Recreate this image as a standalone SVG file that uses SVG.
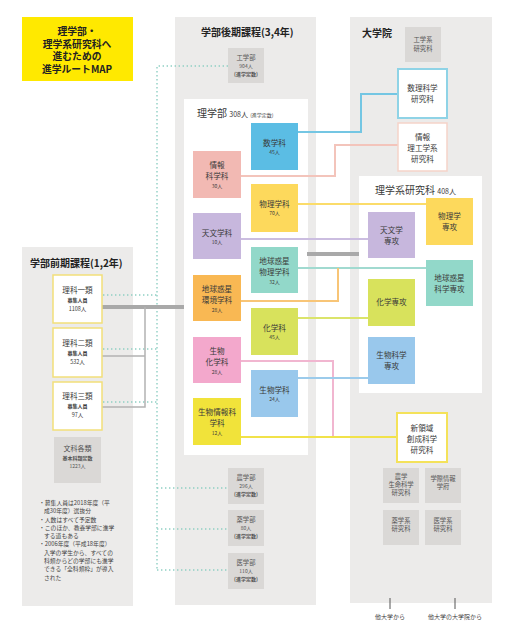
<svg xmlns="http://www.w3.org/2000/svg" width="508" height="628" viewBox="0 0 508 628">
<style>
text{font-family:"Noto Sans CJK JP","Noto Sans CJK SC",sans-serif;text-anchor:middle;fill:#3a3a3a}
.panel{fill:#ecebea}
.wb{fill:#ffffff}
.gb{fill:#dad8d6}
.gt{font-size:6.3px;fill:#555}
.gs{font-size:5px;fill:#555}
.hd{font-size:10px;font-weight:bold;fill:#222;text-anchor:start}
.ti{font-size:9.8px;font-weight:bold;fill:#222}
.lb{font-size:7.6px}
.nm{font-size:5px}
.ri{fill:#fff;stroke:#f2df7a;stroke-width:1.5}
.c{fill:none;stroke-width:2}
.d{fill:none;stroke:#8fcfc4;stroke-width:1.4;stroke-dasharray:1.4 2.6}
.note{font-size:5.8px;text-anchor:start;fill:#444}
</style>

<rect width="508" height="628" fill="#ffffff"/>

<!-- panels -->
<rect class="panel" x="22" y="247" width="111" height="359"/>
<rect class="panel" x="175" y="17" width="141" height="588"/>
<rect class="panel" x="350" y="17" width="142" height="586"/>

<!-- title -->
<g id="title">
<rect x="22" y="17" width="111" height="64" fill="#ffe900"/>
<text class="ti" x="77" y="35">理学部・<tspan x="77" dy="12.5">理学系研究科へ</tspan><tspan x="77" dy="12.5">進むための</tspan><tspan x="77" dy="12.5">進学ルートMAP</tspan></text>
</g>

<text class="hd" x="30" y="267">学部前期課程(1,2年)</text>
<text class="hd" x="201" y="36">学部後期課程(3,4年)</text>
<text class="hd" x="362" y="37">大学院</text>

<!-- inner white boxes -->
<g id="rigakubu">
<rect class="wb" x="184" y="99" width="124" height="356"/>
<text x="197" y="117" style="font-size:10px;text-anchor:start">理学部 <tspan style="font-size:7px">308人</tspan> <tspan style="font-size:5px">(進学定数)</tspan></text>
</g>
<g id="rigakukei">
<rect class="wb" x="359" y="176" width="123" height="217"/>
<text x="375" y="194" style="font-size:10px;text-anchor:start">理学系研究科 <tspan style="font-size:7px">408人</tspan></text>
</g>

<!-- connectors -->
<g id="connectors">
<path class="d" d="M228 66H157V570"/>
<path class="d" d="M103 295H157M103 349H157M103 402H157"/>
<path class="d" d="M157 488H228M157 529H228M157 570H228"/>
<path d="M102 307H184" fill="none" stroke="#a9a9a9" stroke-width="4"/>
<path d="M102 356H145V307M102 407H145V307" fill="none" stroke="#b3b3b3" stroke-width="1.5"/>
<path d="M307 254H359" fill="none" stroke="#a9a9a9" stroke-width="4"/>
<path class="c" stroke="#74c6e3" d="M298 132H361V94H398"/>
<path class="c" stroke="#f3c4bb" d="M241 176H335V145H398"/>
<path class="c" stroke="#fbdc6a" d="M298 204H426"/>
<path class="c" stroke="#cbbde0" d="M241 239H368"/>
<path class="c" stroke="#a1dad0" d="M298 268H426"/>
<path class="c" stroke="#f8c577" d="M241 301H338V268"/>
<path class="c" stroke="#dbe46b" d="M298 318H368"/>
<path class="c" stroke="#f1b6d0" d="M241 361H333V437"/>
<path class="c" stroke="#9ccbeb" d="M298 378H368"/>
<path class="c" stroke="#f1e24a" d="M241 437H397"/>
<path d="M390 598V609M455 598V609" stroke="#555" stroke-width="1"/>
</g>

<!-- left column -->
<g id="ka1">
<rect class="ri" x="53" y="275" width="49" height="48"/>
<text class="lb" x="77.5" y="293">理科一類</text>
<text class="nm" x="77.5" y="302" style="font-weight:bold">募集人員</text>
<text x="77.5" y="311" style="font-size:5.5px">1108人</text>
</g>
<g id="ka2">
<rect class="ri" x="53" y="328" width="49" height="49"/>
<text class="lb" x="77.5" y="346">理科二類</text>
<text class="nm" x="77.5" y="355" style="font-weight:bold">募集人員</text>
<text x="77.5" y="364" style="font-size:5.5px">532人</text>
</g>
<g id="ka3">
<rect class="ri" x="53" y="382" width="49" height="48"/>
<text class="lb" x="77.5" y="399">理科三類</text>
<text class="nm" x="77.5" y="408" style="font-weight:bold">募集人員</text>
<text x="77.5" y="417" style="font-size:5.5px">97人</text>
</g>
<g id="bunka">
<rect class="gb" x="54" y="437" width="47" height="46"/>
<text x="77.5" y="451" style="font-size:7px;fill:#555">文科各類</text>
<text class="gs" x="77.5" y="460" style="font-weight:bold">基本科類定数</text>
<text class="gs" x="77.5" y="468">1223人</text>
</g>
<g id="notes">
<text class="note" x="39" y="505">・募集人員は2018年度（平</text>
<text class="note" x="44" y="513">成30年度）選抜分</text>
<text class="note" x="39" y="522">・人数はすべて予定数</text>
<text class="note" x="39" y="530">・このほか、教養学部に進学</text>
<text class="note" x="44" y="538">する道もある</text>
<text class="note" x="39" y="546">・2006年度（平成18年度）</text>
<text class="note" x="44" y="555">入学の学生から、すべての</text>
<text class="note" x="44" y="563">科類からどの学部にも進学</text>
<text class="note" x="44" y="571">できる「全科類枠」が導入</text>
<text class="note" x="44" y="580">された</text>
</g>

<!-- middle gray boxes -->
<g id="kogakubu">
<rect class="gb" x="228" y="48" width="36" height="35"/>
<text class="gt" x="246" y="60">工学部</text>
<text class="gs" x="246" y="68">904人</text>
<text class="gs" x="246" y="76" style="font-weight:bold">(進学定数)</text>
</g>
<g id="nogakubu">
<rect class="gb" x="228" y="468" width="36" height="36"/>
<text class="gt" x="246" y="480">農学部</text>
<text class="gs" x="246" y="488">296人</text>
<text class="gs" x="246" y="496" style="font-weight:bold">(進学定数)</text>
</g>
<g id="yakugakubu">
<rect class="gb" x="228" y="510" width="36" height="36"/>
<text class="gt" x="246" y="522">薬学部</text>
<text class="gs" x="246" y="530">80人</text>
<text class="gs" x="246" y="538" style="font-weight:bold">(進学定数)</text>
</g>
<g id="igakubu">
<rect class="gb" x="228" y="553" width="36" height="36"/>
<text class="gt" x="246" y="565">医学部</text>
<text class="gs" x="246" y="573">110人</text>
<text class="gs" x="246" y="581" style="font-weight:bold">(進学定数)</text>
</g>

<!-- middle departments -->
<g id="sugaku">
<rect x="251" y="123" width="47" height="47" fill="#5bbde4"/>
<text class="lb" x="274.5" y="146">数学科</text>
<text class="nm" x="274.5" y="154">45人</text>
</g>
<g id="joho">
<rect x="193" y="151" width="48" height="47" fill="#f2b9b3"/>
<text class="lb" x="217" y="168">情報</text>
<text class="lb" x="217" y="179">科学科</text>
<text class="nm" x="217" y="187.5">30人</text>
</g>
<g id="butsuri">
<rect x="251" y="184" width="47" height="48" fill="#fdd95c"/>
<text class="lb" x="274.5" y="207">物理学科</text>
<text class="nm" x="274.5" y="215">70人</text>
</g>
<g id="tenmon">
<rect x="193" y="213" width="48" height="46" fill="#c7b7dd"/>
<text class="lb" x="217" y="236">天文学科</text>
<text class="nm" x="217" y="244">10人</text>
</g>
<g id="chikyubutsuri">
<rect x="251" y="247" width="47" height="46" fill="#92d8c9"/>
<text class="lb" x="274.5" y="264">地球惑星</text>
<text class="lb" x="274.5" y="275">物理学科</text>
<text class="nm" x="274.5" y="283.5">32人</text>
</g>
<g id="chikyukankyo">
<rect x="193" y="275" width="48" height="46" fill="#f9b853"/>
<text class="lb" x="217" y="292">地球惑星</text>
<text class="lb" x="217" y="303">環境学科</text>
<text class="nm" x="217" y="311.5">28人</text>
</g>
<g id="kagaku">
<rect x="251" y="308" width="47" height="47" fill="#d8e25c"/>
<text class="lb" x="274.5" y="331">化学科</text>
<text class="nm" x="274.5" y="339">45人</text>
</g>
<g id="seibutsukagaku">
<rect x="193" y="337" width="48" height="46" fill="#f3a8cc"/>
<text class="lb" x="217" y="354">生物</text>
<text class="lb" x="217" y="365">化学科</text>
<text class="nm" x="217" y="373.5">28人</text>
</g>
<g id="seibutsu">
<rect x="251" y="370" width="47" height="47" fill="#99c8ec"/>
<text class="lb" x="274.5" y="393">生物学科</text>
<text class="nm" x="274.5" y="401">24人</text>
</g>
<g id="seibutsujoho">
<rect x="193" y="398" width="48" height="47" fill="#f1e33a"/>
<text class="lb" x="217" y="415">生物情報科</text>
<text class="lb" x="217" y="426">学科</text>
<text class="nm" x="217" y="434.5">12人</text>
</g>

<!-- right column -->
<g id="kogakukei">
<rect class="gb" x="405" y="27" width="36" height="35"/>
<text class="gt" x="423" y="42">工学系</text>
<text class="gt" x="423" y="51">研究科</text>
</g>
<g id="suri">
<rect x="398" y="69" width="49" height="49" fill="#fff" stroke="#8fd3e6" stroke-width="2"/>
<text class="lb" x="422.5" y="91">数理科学</text>
<text class="lb" x="422.5" y="102">研究科</text>
</g>
<g id="johoriko">
<rect x="398" y="123" width="49" height="48" fill="#fff" stroke="#f5d3c9" stroke-width="1.5"/>
<text class="lb" x="422.5" y="140">情報</text>
<text class="lb" x="422.5" y="151">理工学系</text>
<text class="lb" x="422.5" y="162">研究科</text>
</g>
<g id="butsurisenko">
<rect x="426" y="198" width="47" height="47" fill="#fdd95c"/>
<text class="lb" x="449.5" y="219">物理学</text>
<text class="lb" x="449.5" y="230">専攻</text>
</g>
<g id="tenmonsenko">
<rect x="368" y="212" width="47" height="46" fill="#c7b7dd"/>
<text class="lb" x="391.5" y="233">天文学</text>
<text class="lb" x="391.5" y="244">専攻</text>
</g>
<g id="chikyusenko">
<rect x="426" y="260" width="47" height="46" fill="#92d8c9"/>
<text class="lb" x="449.5" y="281">地球惑星</text>
<text class="lb" x="449.5" y="292">科学専攻</text>
</g>
<g id="kagakusenko">
<rect x="368" y="279" width="47" height="47" fill="#d8e25c"/>
<text class="lb" x="391.5" y="305">化学専攻</text>
</g>
<g id="seibutsusenko">
<rect x="368" y="337" width="47" height="47" fill="#99c8ec"/>
<text class="lb" x="391.5" y="358">生物科学</text>
<text class="lb" x="391.5" y="369">専攻</text>
</g>
<g id="shinryoiki">
<rect x="397" y="413" width="50" height="49" fill="#fff" stroke="#f4e25a" stroke-width="2"/>
<text class="lb" x="422" y="431">新領域</text>
<text class="lb" x="422" y="442">創成科学</text>
<text class="lb" x="422" y="453">研究科</text>
</g>
<g id="nogakukei">
<rect class="gb" x="383" y="468" width="36" height="35"/>
<text class="gt" x="401" y="479">農学</text>
<text class="gt" x="401" y="487">生命科学</text>
<text class="gt" x="401" y="495">研究科</text>
</g>
<g id="gakusai">
<rect class="gb" x="425" y="468" width="36" height="35"/>
<text class="gt" x="443" y="481">学際情報</text>
<text class="gt" x="443" y="489">学府</text>
</g>
<g id="yakugakukei">
<rect class="gb" x="383" y="510" width="36" height="35"/>
<text class="gt" x="401" y="523">薬学系</text>
<text class="gt" x="401" y="531">研究科</text>
</g>
<g id="igakukei">
<rect class="gb" x="425" y="510" width="36" height="35"/>
<text class="gt" x="443" y="523">医学系</text>
<text class="gt" x="443" y="531">研究科</text>
</g>
<text x="390" y="619" style="font-size:6px;fill:#444">他大学から</text>
<text x="455" y="619" style="font-size:6px;fill:#444">他大学の大学院から</text>
</svg>
